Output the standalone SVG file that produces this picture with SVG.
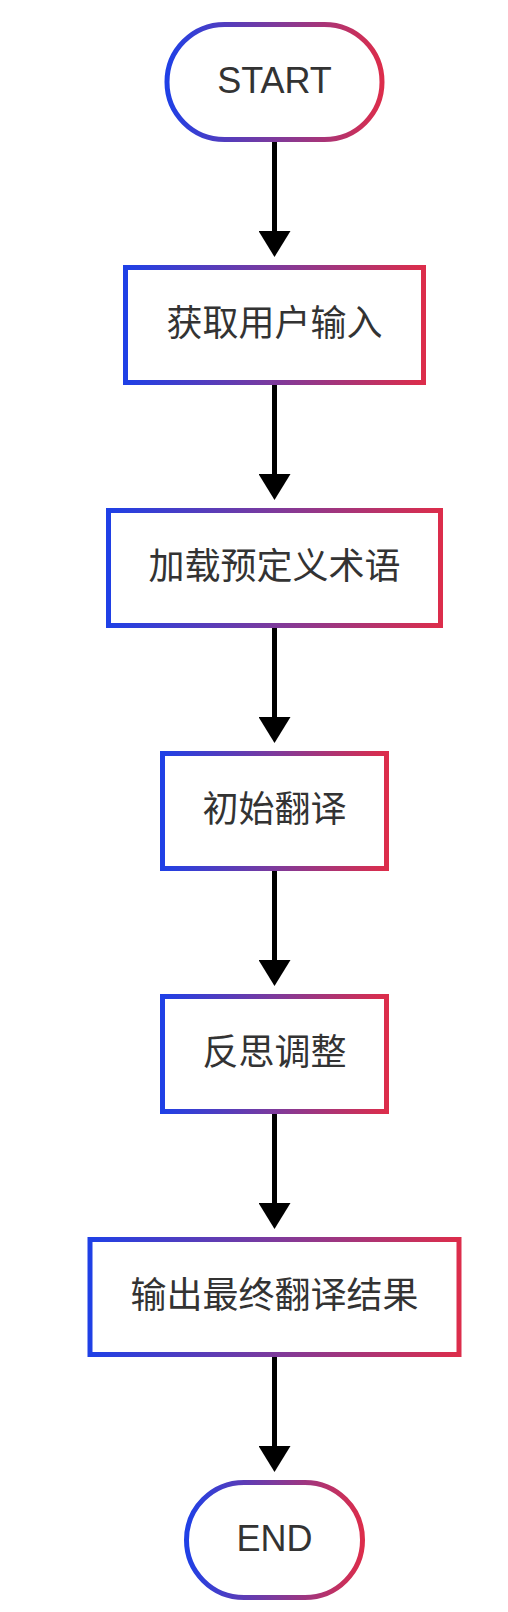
<svg xmlns="http://www.w3.org/2000/svg" width="508" height="1612" viewBox="0 0 508 1612">
<defs>
<linearGradient id="g" x1="0" y1="0" x2="1" y2="0">
<stop offset="0" stop-color="#1f40e6"/>
<stop offset="0.5" stop-color="#7d3a9c"/>
<stop offset="1" stop-color="#dc2d4b"/>
</linearGradient>
<marker id="ah" markerUnits="userSpaceOnUse" markerWidth="26" markerHeight="32" refX="2" refY="16" orient="auto" viewBox="0 0 26 32">
<path d="M0,0 L26,16 L0,32 Z" fill="#000"/>
</marker>
</defs>
<style>
.n{fill:#fff;stroke:url(#g);stroke-width:5}
.t{font-family:"Noto Sans CJK SC","Liberation Sans",sans-serif;font-size:36px;fill:#333;text-anchor:middle}
.e{font-family:"Liberation Sans",Arial,sans-serif;font-size:36px;fill:#333;text-anchor:middle}
.c{stroke:#000;stroke-width:5;fill:none;marker-end:url(#ah)}
</style>
<rect width="508" height="1612" fill="#fff"/>
<g id="connectors">
<line class="c" x1="274.5" y1="141" x2="274.5" y2="233"/>
<line class="c" x1="274.5" y1="384" x2="274.5" y2="476"/>
<line class="c" x1="274.5" y1="627" x2="274.5" y2="719"/>
<line class="c" x1="274.5" y1="870" x2="274.5" y2="962"/>
<line class="c" x1="274.5" y1="1113" x2="274.5" y2="1205"/>
<line class="c" x1="274.5" y1="1356" x2="274.5" y2="1448"/>
</g>
<g id="start">
<rect class="n" x="167" y="24.5" width="215" height="115" rx="57.5"/>
<text class="e" x="274.5" y="93">START</text>
</g>
<g id="n1">
<rect class="n" x="125.5" y="267.5" width="298" height="115"/>
<text class="t" x="274.5" y="336">获取用户输入</text>
</g>
<g id="n2">
<rect class="n" x="108.5" y="510.5" width="332" height="115"/>
<text class="t" x="274.5" y="579">加载预定义术语</text>
</g>
<g id="n3">
<rect class="n" x="162.5" y="753.5" width="224" height="115"/>
<text class="t" x="274.5" y="822">初始翻译</text>
</g>
<g id="n4">
<rect class="n" x="162.5" y="996.5" width="224" height="115"/>
<text class="t" x="274.5" y="1065">反思调整</text>
</g>
<g id="n5">
<rect class="n" x="90" y="1239.5" width="369" height="115"/>
<text class="t" x="274.5" y="1308">输出最终翻译结果</text>
</g>
<g id="end">
<rect class="n" x="186.5" y="1482.5" width="176" height="115" rx="57.5"/>
<text class="e" x="274.5" y="1551">END</text>
</g>
</svg>
